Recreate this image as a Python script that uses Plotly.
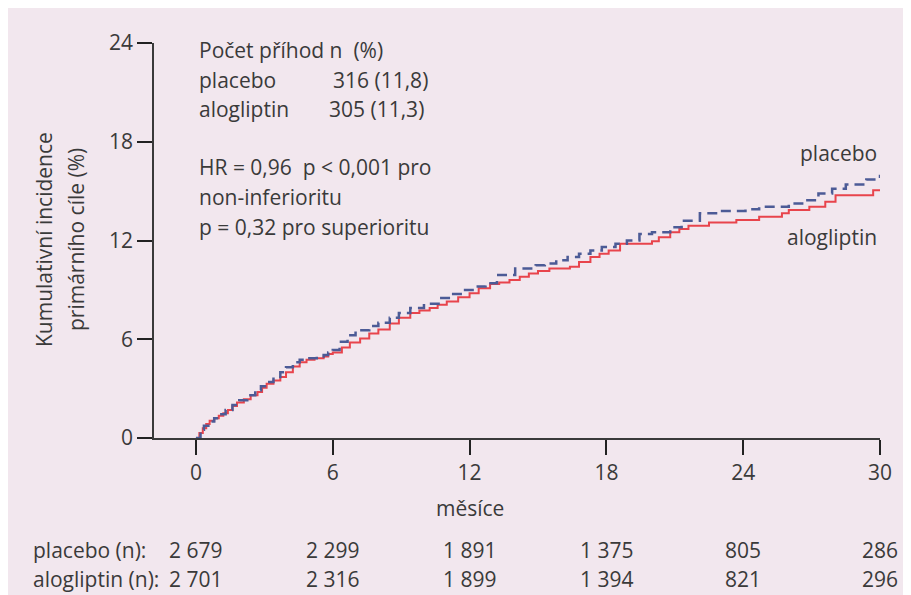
import plotly.graph_objects as go

# ---------------- data ----------------
placebo_months = [0, 0.2, 0.35, 0.6, 0.8, 1.05, 1.3, 1.6, 1.9, 2.25, 2.6, 2.85, 3.1, 3.4, 3.7, 3.95,
                  4.25, 4.55, 4.9, 5.3, 5.6, 5.8, 6.0, 6.3, 6.65, 7.0, 7.6, 8.0, 8.5, 8.9, 9.4,
                  10.0, 10.7, 11.2, 11.7, 12.3, 12.7, 13.2, 14.0, 14.9, 15.3, 15.8, 16.3, 16.8,
                  17.3, 17.8, 18.4, 18.9, 19.45, 20.0, 20.8, 21.3, 22.1, 22.9, 24.1, 24.7, 26.0,
                  26.75, 27.3, 27.9, 28.5, 29.4, 30.0]
placebo_pct = [0, 0.5, 0.75, 1.0, 1.2, 1.45, 1.7, 2.0, 2.3, 2.6, 2.9, 3.15, 3.4, 3.7, 4.0, 4.3,
               4.6, 4.75, 4.85, 4.95, 5.05, 5.2, 5.35, 5.85, 6.25, 6.55, 6.8, 7.0, 7.3, 7.6, 7.9,
               8.15, 8.5, 8.75, 9.0, 9.2, 9.4, 9.9, 10.3, 10.5, 10.6, 10.8, 11.0, 11.2,
               11.4, 11.6, 11.8, 12.0, 12.4, 12.5, 12.8, 13.2, 13.65, 13.8, 13.9, 14.05, 14.25,
               14.45, 14.85, 15.15, 15.4, 15.7, 16.0]

alo_months = [0, 0.15, 0.3, 0.45, 0.6, 0.8, 1.0, 1.2, 1.4, 1.6, 1.8, 2.1, 2.4, 2.7, 2.9, 3.1,
              3.4, 3.7, 3.95, 4.25, 4.55, 4.85, 5.2, 5.6, 5.8, 6.0, 6.4, 6.75, 7.2, 7.6, 8.0,
              8.5, 8.9, 9.4, 9.8, 10.25, 10.6, 11.0, 11.5, 12.0, 12.4, 12.9, 13.3, 13.75, 14.2,
              14.6, 15.0, 15.5, 16.4, 16.8, 17.3, 17.7, 18.1, 18.6, 20.0, 20.3, 20.8, 21.2,
              21.6, 22.5, 23.7, 24.7, 25.7, 26.0, 26.9, 27.6, 28.05, 29.7, 30.0]
alo_pct = [0, 0.3, 0.6, 0.85, 1.05, 1.2, 1.35, 1.5, 1.7, 1.95, 2.15, 2.35, 2.6, 2.8, 3.05, 3.3,
           3.5, 3.7, 4.0, 4.35, 4.6, 4.75, 4.85, 4.95, 5.1, 5.2, 5.5, 5.8, 6.05, 6.35, 6.6,
           6.95, 7.3, 7.6, 7.75, 7.9, 8.1, 8.3, 8.55, 8.8, 9.1, 9.35, 9.45, 9.6, 9.8,
           10.0, 10.15, 10.3, 10.4, 10.7, 11.0, 11.2, 11.4, 11.8, 11.95, 12.2, 12.5, 12.7,
           12.9, 13.1, 13.25, 13.45, 13.65, 13.85, 14.05, 14.35, 14.75, 15.05, 15.05]

x_ticks = [0, 6, 12, 18, 24, 30]
y_ticks = [0, 6, 12, 18, 24]
at_risk_placebo = ["2 679", "2 299", "1 891", "1 375", "805", "286"]
at_risk_alo = ["2 701", "2 316", "1 899", "1 394", "821", "296"]

# ---------------- styling ----------------
OFF = 8                      # page body margin of the browser
W, H = 911 - OFF, 595 - OFF
PLOT_L, PLOT_R, PLOT_T, PLOT_B = 154, 880, 43, 438   # page pixels of the plot area
L, R, T, B = PLOT_L - OFF, W - (PLOT_R - OFF), PLOT_T - OFF, H - (PLOT_B - OFF)
PW, PH = PLOT_R - PLOT_L, PLOT_B - PLOT_T
FONT = "Open Sans"
FS = 21
TXT = "#3a3a3a"
BG = "#f2e7ee"


def px_x(px):
    return (px - PLOT_L) / PW


def px_y(py):
    return (PLOT_B - py) / PH


fig = go.Figure()
fig.add_trace(go.Scatter(x=alo_months, y=alo_pct, mode="lines", line_shape="hv",
                         line=dict(color="#e8444c", width=2), name="alogliptin",
                         showlegend=False))
fig.add_trace(go.Scatter(x=placebo_months, y=placebo_pct, mode="lines", line_shape="hv",
                         line=dict(color="#4c5b96", width=2.5, dash="10px,6px"),
                         name="placebo", showlegend=False))

ann = []


def add_text(text, px, py, xanchor="left", size=FS, angle=0):
    ann.append(dict(text=text, x=px_x(px), y=px_y(py), xref="paper", yref="paper",
                    xanchor=xanchor, yanchor="middle", showarrow=False, textangle=angle,
                    font=dict(family=FONT, size=size, color=TXT)))


add_text("Počet příhod n  (%)", 197, 50)
add_text("placebo", 197, 80)
add_text("316 (11,8)", 331, 80)
add_text("alogliptin", 197, 109)
add_text("305 (11,3)", 327, 109)
add_text("HR = 0,96  p < 0,001 pro", 197, 167)
add_text("non-inferioritu", 197, 197)
add_text("p = 0,32 pro superioritu", 197, 227)

add_text("placebo", 879, 153, xanchor="right")
add_text("alogliptin", 879, 237, xanchor="right")

add_text("Kumulativní incidence", 44, 240, xanchor="center", angle=-90)
add_text("primárního cíle (%)", 76, 240, xanchor="center", angle=-90)

add_text("měsíce", 470, 508, xanchor="center")

add_text("placebo (n):", 31, 550)
add_text("alogliptin (n):", 31, 579)
for xv, a, b in zip(x_ticks, at_risk_placebo, at_risk_alo):
    for txt, py in ((a, 550), (b, 579)):
        ann.append(dict(text=txt, x=xv, y=px_y(py), xref="x", yref="paper",
                        xanchor="center", yanchor="middle", showarrow=False,
                        font=dict(family=FONT, size=FS, color=TXT)))

fig.update_layout(
    width=W, height=H,
    margin=dict(l=L, r=R, t=T, b=B, pad=0),
    paper_bgcolor=BG,
    plot_bgcolor=BG,
    showlegend=False,
    annotations=ann,
    xaxis=dict(range=[-1.84, 30], tickvals=x_ticks, ticktext=[str(v) for v in x_ticks],
               showgrid=False, zeroline=False, showline=True, linecolor="#3a3a3a", linewidth=1.5,
               ticks="outside", ticklen=15, tickwidth=2, tickcolor="#222",
               tickfont=dict(family=FONT, size=FS, color=TXT), fixedrange=True),
    yaxis=dict(range=[0, 24], tickvals=y_ticks, ticktext=[str(v) for v in y_ticks],
               showgrid=False, zeroline=False, showline=True, linecolor="#3a3a3a", linewidth=1.5,
               ticks="outside", ticklen=15, tickwidth=2, tickcolor="#222",
               tickfont=dict(family=FONT, size=FS, color=TXT), fixedrange=True),
)

fig.write_html("out.html")
